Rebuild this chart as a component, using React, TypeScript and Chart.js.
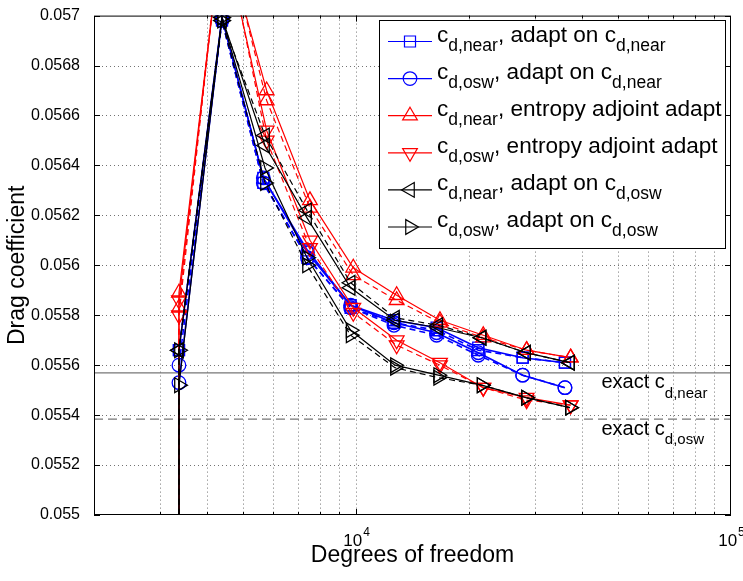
import React, { useEffect, useRef } from "react";
import Chart from "chart.js/auto";

const FONT = '"Liberation Sans", Arial, Helvetica, sans-serif';

// Degrees of freedom per adaptation step (first entry repeated: initial-mesh drop)
const dofBlue = [3370, 3370, 4390, 5657, 7420, 9672, 12620, 16400, 21180, 27820, 36070];
const dofRed = [3370, 3370, 4390, 5774, 7534, 9830, 12830, 16740, 21840, 28500, 37350];
const dofBlack = [3370, 3370, 4390, 5716, 7400, 9672, 12700, 16560, 21620, 28400, 37200];

// Solid series (legend entries)
const cdNearAdaptNear = [0.054, 0.05566, 0.056992, 0.05635, 0.05606, 0.05584, 0.05578, 0.05575, 0.05567, 0.05563, 0.05561];
const cdOswAdaptNear = [0.054, 0.05553, 0.056992, 0.05635, 0.05605, 0.05584, 0.05577, 0.05573, 0.05565, 0.05556, 0.05551];
const cdNearEntropy = [0.054, 0.05589, 0.05735, 0.0567, 0.05626, 0.05599, 0.05588, 0.05578, 0.05572, 0.05566, 0.05563];
const cdOswEntropy = [0.054, 0.05586, 0.05735, 0.05654, 0.0561, 0.05583, 0.0557, 0.05561, 0.05551, 0.05547, 0.05544];
const cdNearAdaptOsw = [0.054, 0.05566, 0.056992, 0.05648, 0.05619, 0.05591, 0.05578, 0.05575, 0.05571, 0.05565, 0.05561];
const cdOswAdaptOsw = [0.054, 0.05552, 0.056992, 0.05639, 0.05603, 0.05574, 0.0556, 0.05556, 0.05552, 0.05547, 0.05543];

// Dashed companion series
const cdNearAdaptNearB = [0.054, 0.05566, 0.05698, 0.05633, 0.05603, 0.05583, 0.05577, 0.05574, 0.05566, 0.05563, 0.05561];
const cdOswAdaptNearB = [0.054, 0.0556, 0.05698, 0.05633, 0.05603, 0.05583, 0.05576, 0.05572, 0.05564, 0.05556, 0.05551];
const cdNearEntropyB = [0.054, 0.05583, 0.05738, 0.05666, 0.05623, 0.05596, 0.05586, 0.05577, 0.05571, 0.05566, 0.05563];
const cdOswEntropyB = [0.054, 0.0558, 0.05738, 0.0565, 0.05607, 0.05581, 0.05568, 0.0556, 0.05551, 0.05546, 0.05544];
const cdNearAdaptOswB = [0.054, 0.05566, 0.05698, 0.05652, 0.05622, 0.05593, 0.05579, 0.05576, 0.05571, 0.05565, 0.05561];
const cdOswAdaptOswB = [0.054, 0.05566, 0.05698, 0.05633, 0.056, 0.05572, 0.05559, 0.05555, 0.05552, 0.05547, 0.05543];

const exactNear = 0.055569;
const exactOsw = 0.055384;

const xMin = 2000;
const xMax = 100000;
const yMin = 0.055;
const yMax = 0.057;

const yTicks = [0.055, 0.0552, 0.0554, 0.0556, 0.0558, 0.056, 0.0562, 0.0564, 0.0566, 0.0568, 0.057];
const yTickLabels = ["0.055", "0.0552", "0.0554", "0.0556", "0.0558", "0.056", "0.0562", "0.0564", "0.0566", "0.0568", "0.057"];
const xGridValues = [3000, 4000, 5000, 6000, 7000, 8000, 9000, 10000, 20000, 30000, 40000, 50000, 60000, 70000, 80000, 90000];
const xMajorTicks = [10000, 100000];
const xTickBase = ["10", "10"];
const xTickExp = ["4", "5"];

const legendMain = ["c", "c", "c", "c", "c", "c"];
const legendSub1 = ["d,near", "d,osw", "d,near", "d,osw", "d,near", "d,osw"];
const legendMid = [", adapt on c", ", adapt on c", ", entropy adjoint adapt", ", entropy adjoint adapt", ", adapt on c", ", adapt on c"];
const legendSub2 = ["d,near", "d,near", "", "", "d,osw", "d,osw"];

const exactLabelMain = ["exact c", "exact c"];
const exactLabelSub = ["d,near", "d,osw"];

const seriesColors = ["#0000ff", "#0000ff", "#ff0000", "#ff0000", "#000000", "#000000"];
const seriesMarkers = ["rect", "circle", "triangle", "triangle", "triangle", "triangle"];
const seriesRotation = [0, 0, 0, 180, -90, 90];
const seriesRadius = [7.8, 6.8, 8.5, 8.5, 8.5, 8.5];
const seriesWidth = [1.6, 1.6, 1.2, 1.2, 1.2, 1.2];

function drawMarker(ctx: any, style: string, x: number, y: number, r: number, rot: number) {
  ctx.beginPath();
  if (style === "circle") {
    ctx.arc(x, y, r, 0, Math.PI * 2);
  } else if (style === "rect") {
    const s = Math.SQRT1_2 * r;
    ctx.rect(x - s, y - s, 2 * s, 2 * s);
  } else {
    let rad = (rot * Math.PI) / 180;
    ctx.moveTo(x + Math.sin(rad) * r, y - Math.cos(rad) * r);
    rad += (2 * Math.PI) / 3;
    ctx.lineTo(x + Math.sin(rad) * r, y - Math.cos(rad) * r);
    rad += (2 * Math.PI) / 3;
    ctx.lineTo(x + Math.sin(rad) * r, y - Math.cos(rad) * r);
    ctx.closePath();
  }
  ctx.stroke();
}

const gridPlugin = {
  id: "matlabGrid",
  beforeDatasetsDraw(chart: any) {
    const { ctx, chartArea: ca, scales } = chart;
    ctx.save();
    ctx.strokeStyle = "rgba(0,0,0,0.55)";
    ctx.lineWidth = 1;
    ctx.setLineDash([1, 3]);
    for (const v of yTicks) {
      if (v === yMin || v === yMax) continue;
      const py = Math.round(scales.y.getPixelForValue(v)) + 0.5;
      ctx.beginPath();
      ctx.moveTo(ca.left, py);
      ctx.lineTo(ca.right, py);
      ctx.stroke();
    }
    for (const v of xGridValues) {
      const px = Math.round(scales.x.getPixelForValue(v)) + 0.5;
      ctx.beginPath();
      ctx.moveTo(px, ca.top);
      ctx.lineTo(px, ca.bottom);
      ctx.stroke();
    }
    ctx.restore();
  },
  afterDatasetsDraw(chart: any) {
    const { ctx, chartArea: ca, scales } = chart;
    ctx.save();
    ctx.strokeStyle = "#000";
    ctx.lineWidth = 1;
    ctx.setLineDash([]);
    ctx.strokeRect(ca.left + 0.5, ca.top + 0.5, ca.right - ca.left - 1, ca.bottom - ca.top - 1);
    // inward tick marks
    ctx.beginPath();
    for (const v of yTicks) {
      const py = Math.round(scales.y.getPixelForValue(v)) + 0.5;
      ctx.moveTo(ca.left, py);
      ctx.lineTo(ca.left + 6, py);
      ctx.moveTo(ca.right, py);
      ctx.lineTo(ca.right - 6, py);
    }
    for (const v of xGridValues) {
      const px = Math.round(scales.x.getPixelForValue(v)) + 0.5;
      const len = xMajorTicks.includes(v) ? 6 : 3;
      ctx.moveTo(px, ca.bottom);
      ctx.lineTo(px, ca.bottom - len);
      ctx.moveTo(px, ca.top);
      ctx.lineTo(px, ca.top + len);
    }
    ctx.stroke();

    // x tick labels with superscripts
    ctx.fillStyle = "#000";
    ctx.textBaseline = "alphabetic";
    ctx.textAlign = "left";
    xMajorTicks.forEach((v, i) => {
      const cx = scales.x.getPixelForValue(v);
      ctx.font = `17px ${FONT}`;
      const wb = ctx.measureText(xTickBase[i]).width;
      ctx.font = `12px ${FONT}`;
      const we = ctx.measureText(xTickExp[i]).width;
      const start = cx - (wb + we) / 2;
      ctx.font = `17px ${FONT}`;
      ctx.fillText(xTickBase[i], start, ca.bottom + 31);
      ctx.font = `12px ${FONT}`;
      ctx.fillText(xTickExp[i], start + wb + 1, ca.bottom + 21);
    });

    // exact value labels
    [exactNear, exactOsw].forEach((v, i) => {
      const py = scales.y.getPixelForValue(v);
      const x0 = 601.5;
      ctx.font = `20px ${FONT}`;
      ctx.fillText(exactLabelMain[i], x0, py + 15.5);
      const w = ctx.measureText(exactLabelMain[i]).width;
      ctx.font = `15px ${FONT}`;
      ctx.fillText(exactLabelSub[i], x0 + w, py + 25);
    });
    ctx.restore();
  },
  afterDraw(chart: any) {
    const { ctx } = chart;
    ctx.save();
    const bx = 379.5, by = 20.5, bw = 346, bh = 228;
    ctx.fillStyle = "#fff";
    ctx.fillRect(bx, by, bw, bh);
    ctx.strokeStyle = "#000";
    ctx.lineWidth = 1;
    ctx.setLineDash([]);
    ctx.strokeRect(bx, by, bw, bh);
    for (let i = 0; i < 6; i++) {
      const y = 41.5 + i * 37.1;
      ctx.strokeStyle = seriesColors[i];
      ctx.lineWidth = 1.2;
      ctx.beginPath();
      ctx.moveTo(388, y);
      ctx.lineTo(432, y);
      ctx.stroke();
      drawMarker(ctx, seriesMarkers[i], 410, y, seriesRadius[i], seriesRotation[i]);
      ctx.fillStyle = "#000";
      ctx.textBaseline = "alphabetic";
      ctx.textAlign = "left";
      let x = 437;
      const parts: [string, boolean][] = [
        [legendMain[i], false],
        [legendSub1[i], true],
        [legendMid[i], false],
        [legendSub2[i], true],
      ];
      for (const [t, sub] of parts) {
        if (!t) continue;
        ctx.font = sub ? `17.5px ${FONT}` : `22.6px ${FONT}`;
        ctx.fillText(t, x, sub ? y + 9 : y);
        x += ctx.measureText(t).width;
      }
    }
    ctx.restore();
  },
};

export default function App() {
  const ref = useRef<HTMLCanvasElement>(null);
  useEffect(() => {
    const canvas = ref.current;
    if (!canvas) return;
    const mk = (xs: number[], ys: number[], i: number, dashed: boolean, label: string) => ({
      label,
      data: xs.map((x, k) => ({ x, y: ys[k] })),
      borderColor: seriesColors[i],
      backgroundColor: "rgba(0,0,0,0)",
      borderWidth: seriesWidth[i],
      borderDash: dashed ? [6, 4] : [],
      pointStyle: seriesMarkers[i],
      pointRotation: seriesRotation[i],
      pointRadius: seriesRadius[i],
      pointBorderColor: seriesColors[i],
      pointBackgroundColor: "rgba(0,0,0,0)",
      pointBorderWidth: 1.3,
      tension: 0,
      fill: false,
      clip: 0,
    });
    const datasets: any[] = [
      {
        label: "exact near",
        data: [{ x: xMin, y: exactNear }, { x: xMax, y: exactNear }],
        borderColor: "#777",
        borderWidth: 1.4,
        pointRadius: 0,
        fill: false,
        clip: 0,
      },
      {
        label: "exact osw",
        data: [{ x: xMin, y: exactOsw }, { x: xMax, y: exactOsw }],
        borderColor: "#777",
        borderWidth: 1.4,
        borderDash: [9, 5],
        pointRadius: 0,
        fill: false,
        clip: 0,
      },
      mk(dofBlue, cdNearAdaptNear, 0, false, "cd,near adapt on cd,near"),
      mk(dofBlue, cdNearAdaptNearB, 0, true, "cd,near adapt on cd,near (b)"),
      mk(dofBlue, cdOswAdaptNear, 1, false, "cd,osw adapt on cd,near"),
      mk(dofBlue, cdOswAdaptNearB, 1, true, "cd,osw adapt on cd,near (b)"),
      mk(dofRed, cdNearEntropy, 2, false, "cd,near entropy adjoint adapt"),
      mk(dofRed, cdNearEntropyB, 2, true, "cd,near entropy adjoint adapt (b)"),
      mk(dofRed, cdOswEntropy, 3, false, "cd,osw entropy adjoint adapt"),
      mk(dofRed, cdOswEntropyB, 3, true, "cd,osw entropy adjoint adapt (b)"),
      mk(dofBlack, cdNearAdaptOsw, 4, false, "cd,near adapt on cd,osw"),
      mk(dofBlack, cdNearAdaptOswB, 4, true, "cd,near adapt on cd,osw (b)"),
      mk(dofBlack, cdOswAdaptOsw, 5, false, "cd,osw adapt on cd,osw"),
      mk(dofBlack, cdOswAdaptOswB, 5, true, "cd,osw adapt on cd,osw (b)"),
    ];
    datasets.forEach((d, i) => (d.order = -i));

    const chart = new Chart(canvas, {
      type: "line",
      data: { datasets },
      options: {
        animation: false,
        responsive: false,
        maintainAspectRatio: false,
        layout: { padding: { top: 13, right: 12, bottom: 0, left: 0 } },
        plugins: { legend: { display: false }, tooltip: { enabled: false } },
        scales: {
          x: {
            type: "logarithmic",
            min: xMin,
            max: xMax,
            grid: { display: false },
            border: { display: false },
            ticks: { display: false },
            afterFit: (s: any) => {
              s.height = 66;
            },
            title: {
              display: true,
              text: "Degrees of freedom",
              color: "#000",
              font: { family: FONT, size: 23 },
              padding: { top: 0, bottom: 12 },
            },
          },
          y: {
            type: "linear",
            min: yMin,
            max: yMax,
            grid: { display: false },
            border: { display: false },
            afterBuildTicks: (s: any) => {
              s.ticks = yTicks.map((v) => ({ value: v }));
            },
            ticks: {
              autoSkip: false,
              color: "#000",
              padding: 6,
              font: { family: FONT, size: 16 },
              callback: (_v: any, i: number) => yTickLabels[i],
            },
            afterFit: (s: any) => {
              s.width = 94;
            },
            title: {
              display: true,
              text: "Drag coefficient",
              color: "#000",
              font: { family: FONT, size: 23 },
              padding: { top: 4, bottom: 0 },
            },
          },
        },
      },
      plugins: [gridPlugin],
    } as any);
    return () => chart.destroy();
  }, []);

  return (
    <div style={{ position: "fixed", left: 0, top: 0, width: 743, height: 581, overflow: "hidden", background: "#fff" }}>
      <canvas ref={ref} width={743} height={581} style={{ width: 743, height: 581, display: "block" }} />
    </div>
  );
}
